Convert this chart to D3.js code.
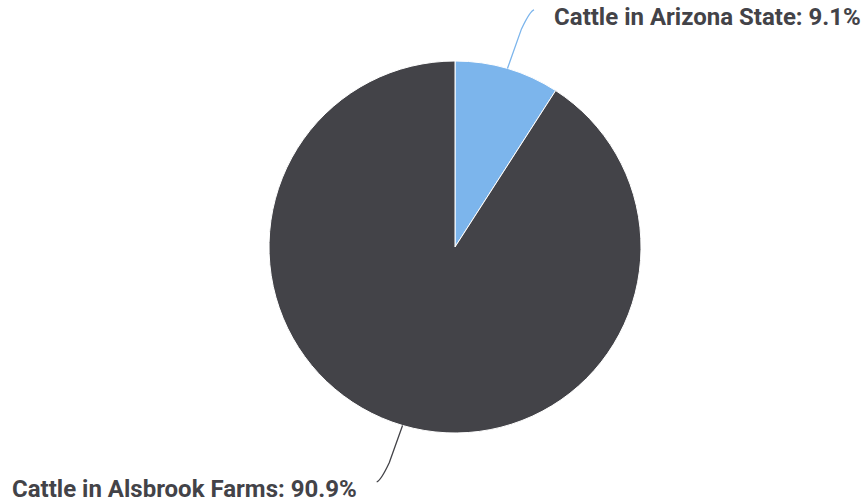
<!DOCTYPE html>
<html><head><meta charset="utf-8">
<script src="https://cdn.jsdelivr.net/npm/d3@7"></script>
<style>body{margin:0;background:#fff}svg{display:block}</style>
</head><body>
<svg id="c" width="864" height="504"></svg>
<script>
const categories = ["Cattle in Arizona State", "Cattle in Alsbrook Farms"];
const values = [9.1, 90.9];
const colors = ["#7cb5ec", "#434348"];

const W = 864, H = 504, cx = 455, cy = 247, R = 186;
const svg = d3.select("#c");
const g = svg.append("g").attr("transform", `translate(${cx},${cy})`);
const pie = d3.pie().sort(null).value(d => d)(values);
const arc = d3.arc().innerRadius(0).outerRadius(R);

g.selectAll("path.slice").data(pie).join("path")
  .attr("class", "slice")
  .attr("d", arc)
  .attr("fill", (d, i) => colors[i])
  .attr("stroke", "#fff").attr("stroke-width", 1).attr("stroke-linejoin", "round");

function pt(a, r) { return [r * Math.sin(a), -r * Math.cos(a)]; }

pie.forEach((d, i) => {
  const mid = (d.startAngle + d.endAngle) / 2;
  const right = Math.sin(mid) >= 0;
  const LR = right ? 250 : 247.5;
  const p0 = pt(mid, R);
  const p1 = pt(mid + 0.036, LR);
  const dir = right ? 1 : -1;
  const c1 = pt(mid + 0.01, LR - 22);
  const path = `M${p0[0]},${p0[1]} L${c1[0]},${c1[1]} Q${p1[0] - dir * 4},${p1[1] + (right ? 1 : -1)} ${p1[0]},${p1[1]}`;
  g.append("path").attr("d", path).attr("fill", "none")
    .attr("stroke", colors[i]).attr("stroke-width", 1.3);
  g.append("text")
    .attr("x", p1[0] + dir * 20)
    .attr("y", p1[1] + 7)
    .attr("dy", "0.35em")
    .attr("text-anchor", right ? "start" : "end")
    .attr("font-family", "Roboto, sans-serif")
    .attr("font-weight", "bold")
    .attr("font-size", 24)
    .attr("fill", "#434348")
    .text(`${categories[i]}: ${values[i]}%`);
});
</script>
</body></html>
